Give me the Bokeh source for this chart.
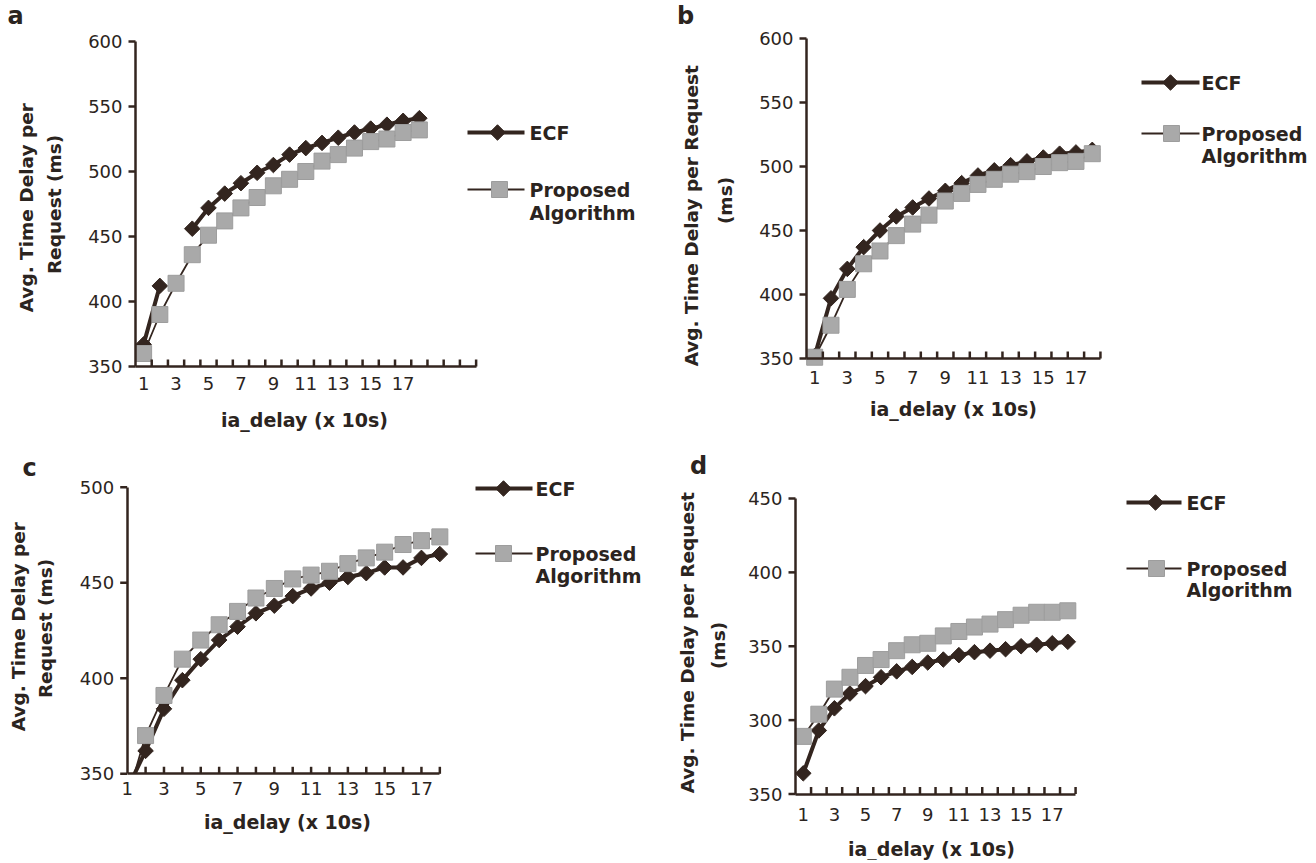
import math
from bokeh.plotting import figure
from bokeh.models import FixedTicker, Range1d, Label, LinearAxis
from bokeh.layouts import column, row
from bokeh.embed import file_html
from bokeh.resources import INLINE

NaN = float("nan")

# ---------------- data ----------------
x_ia = list(range(1, 19))
x_tick_labels = [1, 3, 5, 7, 9, 11, 13, 15, 17]

ecf_a = [367, 412, NaN, 456, 472, 483, 491, 499, 505, 513, 518, 522, 526, 530, 533, 536, 539, 541]
prop_a = [360, 390, 414, 436, 451, 462, 472, 480, 489, 494, 500, 508, 513, 518, 523, 525, 530, 532]

ecf_b = [352, 397, 420, 437, 450, 461, 468, 475, 481, 487, 493, 497, 501, 504, 507, 510, 511, 513]
prop_b = [351, 376, 404, 424, 434, 446, 455, 462, 473, 479, 486, 490, 494, 496, 500, 503, 504, 510]

ecf_c = [342, 362, 384, 399, 410, 420, 427, 434, 438, 443, 447, 450, 453, 455, 458, 458, 463, 465]
prop_c = [337, 370, 391, 410, 420, 428, 435, 442, 447, 452, 454, 456, 460, 463, 466, 470, 472, 474]

ecf_d = [264, 293, 308, 318, 323, 329, 333, 336, 339, 341, 344, 346, 347, 348, 350, 351, 352, 353]
prop_d = [289, 304, 321, 329, 337, 341, 347, 351, 352, 357, 360, 363, 365, 368, 371, 373, 373, 374]

y_ticks_ab = [350, 400, 450, 500, 550, 600]
y_ticks_c = [350, 400, 450, 500]
y_ticks_d = [250, 300, 350, 400, 450]
y_labels_d = ["350", "300", "350", "400", "450"]

legend_names = ["ECF", "Proposed", "Algorithm"]
x_title = "ia_delay (x 10s)"

# ---------------- style ----------------
INK = "#2b2420"
DARK = "#33251f"
GRAY = "#a9a9a9"
GRAY_EDGE = "#9d9d9d"
FONT = "DejaVu Sans"
TICK_FS = "18px"


def make_panel(spec):
    W, H = spec["size"]
    ox, oy = spec["origin"]
    (xp, xv, pxu) = spec["xcal"]          # pixel of value xv, pixels per unit
    (yp0, yv0, yp1, yv1) = spec["ycal"]   # pixel/value of top tick and bottom tick
    lxp, lyp0, lyp1 = xp - ox, yp0 - oy, yp1 - oy
    x_start = xv - lxp / pxu
    x_end = xv + (W - lxp) / pxu
    ppv = (lyp1 - lyp0) / (yv0 - yv1)
    y_end = yv0 + lyp0 / ppv
    y_start = yv1 - (H - lyp1) / ppv

    def to_data(px, py):
        return (x_start + (px - ox) / pxu, y_end - (py - oy) / ppv)

    p = figure(width=W, height=H, output_backend="svg", toolbar_location=None,
               x_range=Range1d(x_start, x_end), y_range=Range1d(y_start, y_end),
               min_border_left=0, min_border_right=0,
               min_border_top=0, min_border_bottom=0)
    p.outline_line_color = None
    p.xgrid.visible = False
    p.ygrid.visible = False
    p.background_fill_color = "white"
    p.border_fill_color = "white"

    ylim = spec["ylim"]
    xb = spec["xbounds"]
    ticks = spec["xticks"]
    yticks = spec["yticks"]

    # x axis: line only (tick marks are drawn below)
    xa = p.xaxis[0]
    xa.fixed_location = ylim[0]
    xa.ticker = FixedTicker(ticks=ticks, minor_ticks=[])
    xa.bounds = xb
    xa.major_tick_in = 0
    xa.major_tick_out = 0
    xa.minor_tick_in = 0
    xa.minor_tick_out = 0
    xa.axis_line_width = 2.5
    xa.axis_line_color = DARK
    xa.major_label_overrides = {t: "" for t in ticks}
    xa.major_label_text_font_size = "1px"

    # x axis: category labels only
    xl = LinearAxis(fixed_location=ylim[0], bounds=xb,
                    ticker=FixedTicker(ticks=x_tick_labels, minor_ticks=[]))
    xl.axis_line_color = None
    xl.major_tick_in = 0
    xl.major_tick_out = 0
    xl.minor_tick_in = 0
    xl.minor_tick_out = 0
    xl.major_label_text_font = FONT
    xl.major_label_text_font_size = TICK_FS
    xl.major_label_text_color = INK
    xl.major_label_standoff = spec["xstandoff"]
    p.add_layout(xl, "below")

    ya = p.yaxis[0]
    ya.fixed_location = xb[0]
    ya.ticker = FixedTicker(ticks=yticks, minor_ticks=[])
    ya.bounds = ylim
    ya.major_tick_in = 0
    ya.major_tick_out = 0
    ya.minor_tick_out = 0
    ya.minor_tick_in = 0
    ya.axis_line_width = 2.5
    ya.axis_line_color = DARK
    ya.major_label_text_font = FONT
    ya.major_label_text_font_size = TICK_FS
    ya.major_label_text_color = INK
    ya.major_label_standoff = 13
    if spec.get("ylabels") is not None:
        ya.major_label_overrides = {t: s for t, s in zip(yticks, spec["ylabels"])}

    ecf, prop = spec["ecf"], spec["prop"]
    p.line(x_ia, ecf, line_color=DARK, line_width=4)
    p.scatter(x_ia, ecf, marker="square", angle=math.pi / 4, size=11,
              fill_color=DARK, line_color=DARK)
    p.line(x_ia, prop, line_color=DARK, line_width=1.8)
    p.scatter(x_ia, prop, marker="square", size=16,
              fill_color=GRAY, line_color=GRAY_EDGE, line_width=1)

    if spec.get("mask"):
        # white-out what falls below the value axis' floor
        p.quad(left=[x_start], right=[x_end], bottom=[y_start], top=[ylim[0]],
               fill_color="white", line_color=None)

    # tick marks (category ticks point inwards, value ticks outwards)
    th = 7.0 / ppv
    p.segment(x0=ticks, y0=[ylim[0]] * len(ticks), x1=ticks,
              y1=[ylim[0] + th] * len(ticks), line_color=DARK, line_width=2.5)
    tw = 7.0 / pxu
    p.segment(x0=[xb[0] - tw] * len(yticks), y0=yticks, x1=[xb[0]] * len(yticks),
              y1=yticks, line_color=DARK, line_width=2.5)

    # legend keys
    (l_x0, l_x1, ecf_y, ecf_mx, txt_x, prop_y, prop_mx, alg_y) = spec["legend"]
    ax0, ay = to_data(l_x0, ecf_y)
    ax1, _ = to_data(l_x1, ecf_y)
    amx, _ = to_data(ecf_mx, ecf_y)
    p.line([ax0, ax1], [ay, ay], line_color=DARK, line_width=4)
    p.scatter([amx], [ay], marker="square", angle=math.pi / 4, size=11,
              fill_color=DARK, line_color=DARK)
    bx0, by = to_data(l_x0, prop_y)
    bx1, _ = to_data(l_x1, prop_y)
    bmx, _ = to_data(prop_mx, prop_y)
    p.line([bx0, bx1], [by, by], line_color=DARK, line_width=1.8)
    p.scatter([bmx], [by], marker="square", size=16,
              fill_color=GRAY, line_color=GRAY_EDGE)
    tx, _ = to_data(txt_x, ecf_y)
    _, cy = to_data(txt_x, alg_y)
    for name, yy in zip(legend_names, [ay, by, cy]):
        p.add_layout(Label(x=tx, y=yy, text=name, text_font=FONT,
                           text_font_style="bold", text_font_size="19px",
                           text_color=INK, text_align="left",
                           text_baseline="middle"))

    # axis titles
    tx, ty = to_data(*spec["xtitle_pos"])
    p.add_layout(Label(x=tx, y=ty, text=x_title, text_font=FONT,
                       text_font_style="bold", text_font_size="19px",
                       text_color=INK, text_align="center",
                       text_baseline="middle"))
    for line_text, pos in zip(spec["ytitle"], spec["ytitle_pos"]):
        tx, ty = to_data(*pos)
        p.add_layout(Label(x=tx, y=ty, text=line_text, text_font=FONT,
                           text_font_style="bold", text_font_size="18.5px",
                           text_color=INK, text_align="center",
                           text_baseline="middle", angle=math.pi / 2))

    lx, ly = to_data(*spec["letter_pos"])
    p.add_layout(Label(x=lx, y=ly, text=spec["letter"], text_font=FONT,
                       text_font_style="bold", text_font_size="24px",
                       text_color=INK, text_align="center",
                       text_baseline="middle"))
    return p


ticks_a = [i + 0.5 for i in range(1, 22)]
ticks_bd = [i + 0.5 for i in range(1, 19)]
ticks_c = [i for i in range(2, 19)]

pa = make_panel(dict(
    letter="a", ecf=ecf_a, prop=prop_a, size=(656, 432), origin=(0, 0),
    xcal=(135, 0.5, 16.22), ycal=(41, 600, 366, 350),
    ylim=(350, 600), xbounds=(0.5, 21.5), xticks=ticks_a, yticks=y_ticks_ab,
    xstandoff=10,
    legend=(467, 524, 132, 497, 529, 189, 499, 212),
    xtitle_pos=(304, 419),
    ytitle=["Avg. Time Delay  per", "Request (ms)"],
    ytitle_pos=[(26, 204), (54, 204)],
    letter_pos=(15, 15)))

pb = make_panel(dict(
    letter="b", ecf=ecf_b, prop=prop_b, size=(656, 432), origin=(656, 0),
    xcal=(806, 0.5, 16.33), ycal=(38, 600, 358, 350),
    ylim=(350, 600), xbounds=(0.5, 18.5), xticks=ticks_bd, yticks=y_ticks_ab,
    xstandoff=12,
    legend=(1141, 1199, 82, 1170, 1201, 133, 1171, 155),
    xtitle_pos=(953, 408),
    ytitle=["Avg. Time Delay  per Request", "(ms)"],
    ytitle_pos=[(691, 212), (725, 200)],
    letter_pos=(685, 15)))

pc = make_panel(dict(
    letter="c", ecf=ecf_c, prop=prop_c, size=(656, 428), origin=(0, 432),
    xcal=(126.7, 1.0, 18.39), ycal=(486.7, 500, 773.3, 350),
    ylim=(350, 500), xbounds=(1, 18), xticks=ticks_c, yticks=y_ticks_c,
    xstandoff=8, mask=True,
    legend=(475, 532, 488, 503, 535, 553, 503, 575),
    xtitle_pos=(287, 821),
    ytitle=["Avg. Time Delay  per", "Request (ms)"],
    ytitle_pos=[(18, 623), (45, 628)],
    letter_pos=(29, 467)))

pd_ = make_panel(dict(
    letter="d", ecf=ecf_d, prop=prop_d, size=(656, 428), origin=(656, 432),
    xcal=(795, 0.5, 15.56), ycal=(498, 450, 793.5, 250),
    ylim=(250, 450), xbounds=(0.5, 18.5), xticks=ticks_bd, yticks=y_ticks_d,
    ylabels=y_labels_d, xstandoff=14,
    legend=(1126, 1181, 502, 1155, 1186, 568, 1156, 589),
    xtitle_pos=(931, 848),
    ytitle=["Avg. Time Delay  per Request", "(ms)"],
    ytitle_pos=[(687, 639), (718, 645)],
    letter_pos=(698, 465)))

layout = column(row(pa, pb), row(pc, pd_))

open("out.html", "w").write(file_html(layout, INLINE))
